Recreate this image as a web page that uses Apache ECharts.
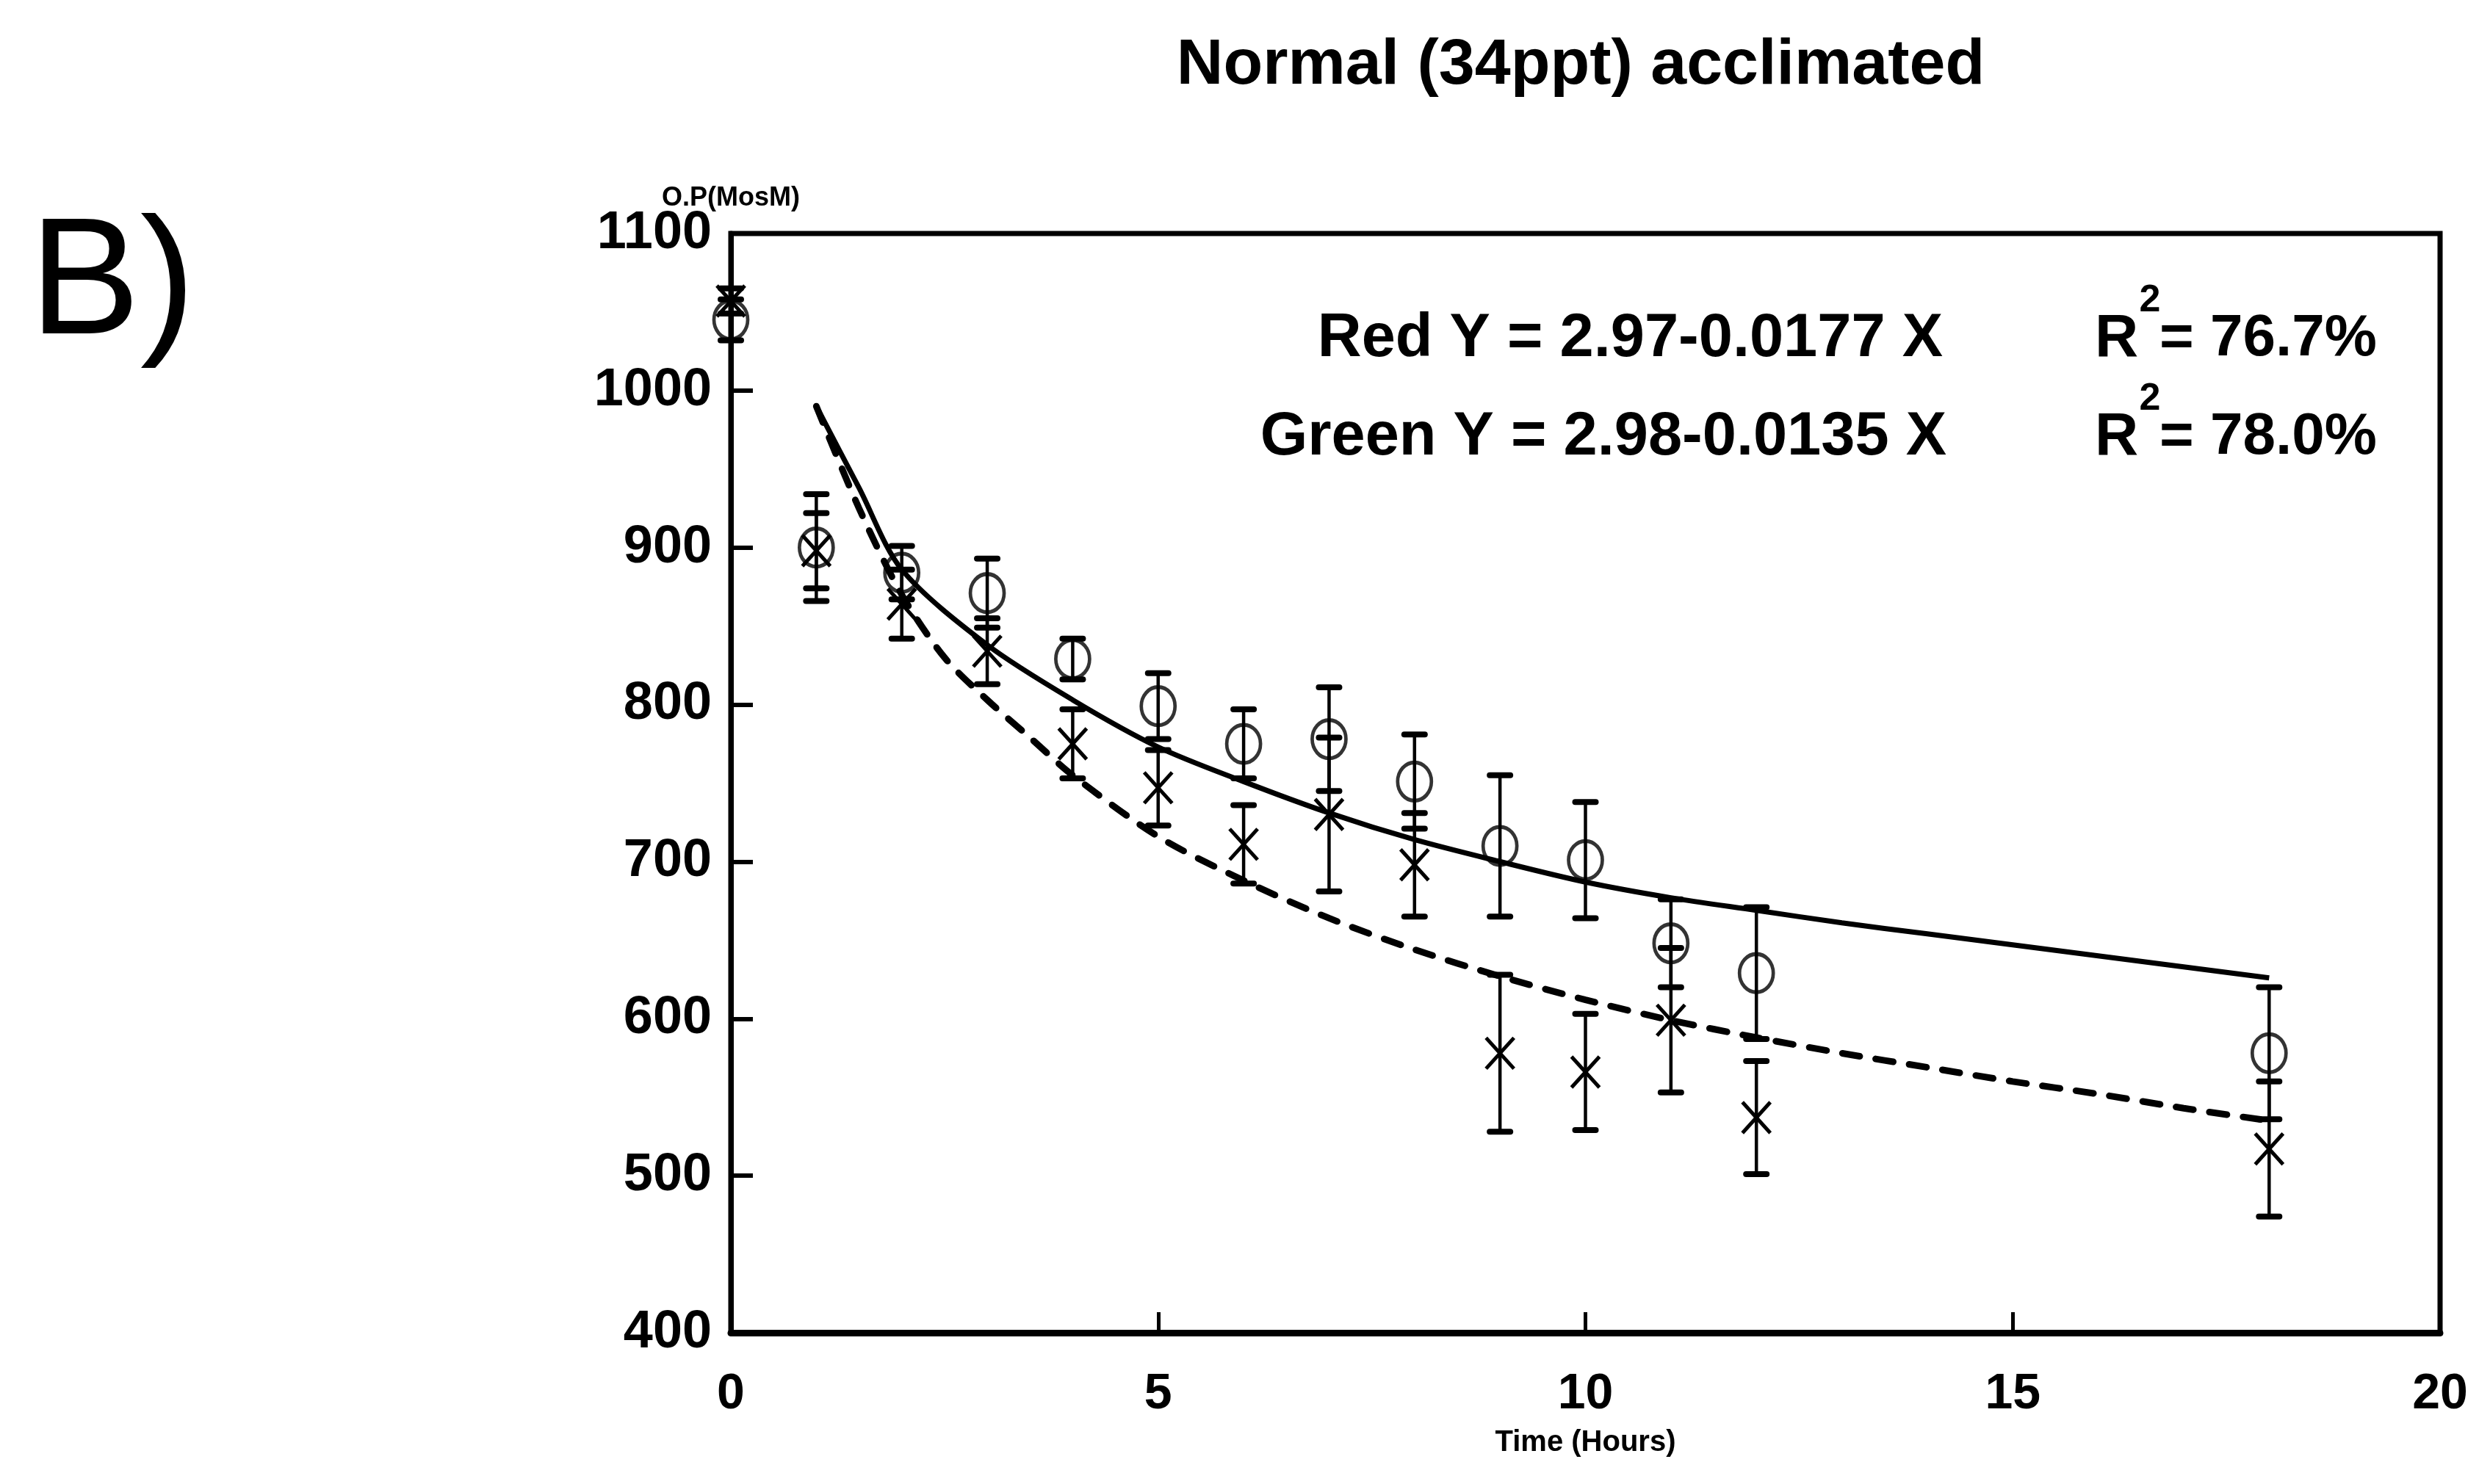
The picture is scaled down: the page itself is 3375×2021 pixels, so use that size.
<!DOCTYPE html>
<html>
<head>
<meta charset="utf-8">
<script src="https://cdn.jsdelivr.net/npm/echarts@6/dist/echarts.min.js"></script>
<style>
html,body{margin:0;padding:0;background:#fff;}
#c{width:3375px;height:2021px;}
</style>
</head>
<body>
<div id="c"></div>
<script>
// ---- data ----
const hours = [0, 1, 2, 3, 4, 5, 6, 7, 8, 9, 10, 11, 12, 18];
// open circles (upper group, solid fitted curve)
const circleOP  = [1045, 900, 884, 871, 829, 799, 775, 778, 751, 710, 701, 648, 629, 578];
const circleErr = [13, 34, 17, 22, 13, 21, 22, 33, 30, 45, 37, 28, 42, 42];
// crosses (lower group, dashed fitted curve)
const crossOP   = [1057, 898, 864, 834, 775, 747, 711, 730, 698, 578, 566, 599, 537, 517];
const crossErr  = [8, 24, 22, 21, 22, 24, 25, 49, 33, 50, 37, 46, 36, 43];
// fitted curves
const solidHours = [1, 1.5, 2, 3, 4, 5, 6, 7, 8, 9, 10, 11, 12, 13, 14, 15, 16, 17, 18];
const solidOP    = [990, 938, 886, 838, 803, 773, 751, 731, 714, 700, 687, 677, 669, 661, 654, 647, 640, 633, 626];
const dashHours  = [1, 1.5, 2, 2.5, 3, 3.5, 4, 5, 6, 7, 8, 9, 10, 11, 12, 13, 14, 15, 16, 17, 18];
const dashOP     = [990, 925, 870, 830, 803, 779, 755, 716, 688, 664, 644, 627, 612, 599, 588, 578, 569, 560, 552, 543, 535];
// axis ticks
const xTicks = [0, 5, 10, 15, 20];
const yTicks = [400, 500, 600, 700, 800, 900, 1000, 1100];
// texts
const titleText = 'Normal (34ppt) acclimated';
const panelLabel = 'B)';
const yName = 'O.P(MosM)';
const xName = 'Time (Hours)';
const eqRed = 'Red Y = 2.97-0.0177 X';
const eqGreen = 'Green Y = 2.98-0.0135 X';
const r2Red = '= 76.7%';
const r2Green = '= 78.0%';

const FONT = "'Liberation Sans', Arial, Helvetica, sans-serif";
const chart = echarts.init(document.getElementById('c'), null, {renderer: 'canvas'});

function errBars(params, api) {
  const x = api.value(0), y = api.value(1), e = api.value(2);
  const t = api.coord([x, y + e]);
  const b = api.coord([x, y - e]);
  const cw = 14;
  return {
    type: 'group',
    children: [
      {type: 'line', shape: {x1: t[0], y1: t[1], x2: b[0], y2: b[1]}, style: {stroke: '#000', lineWidth: 4.5}},
      {type: 'line', shape: {x1: t[0] - cw, y1: t[1], x2: t[0] + cw, y2: t[1]}, style: {stroke: '#000', lineWidth: 8, lineCap: 'round'}},
      {type: 'line', shape: {x1: b[0] - cw, y1: b[1], x2: b[0] + cw, y2: b[1]}, style: {stroke: '#000', lineWidth: 8, lineCap: 'round'}}
    ]
  };
}
function crossMark(params, api) {
  const c = api.coord([api.value(0), api.value(1)]);
  const hx = 19, hy = 21;
  return {
    type: 'group',
    children: [
      {type: 'line', shape: {x1: c[0] - hx, y1: c[1] - hy, x2: c[0] + hx, y2: c[1] + hy}, style: {stroke: '#000', lineWidth: 5}},
      {type: 'line', shape: {x1: c[0] + hx, y1: c[1] - hy, x2: c[0] - hx, y2: c[1] + hy}, style: {stroke: '#000', lineWidth: 5}}
    ]
  };
}

const option = {
  backgroundColor: '#fff',
  animation: false,
  textStyle: {fontFamily: FONT, color: '#000'},
  grid: {left: 995, right: 53, top: 318, bottom: 206, show: true, borderColor: '#000', borderWidth: 7},
  xAxis: {
    type: 'value', min: xTicks[0], max: xTicks[xTicks.length - 1], interval: 5,
    axisLine: {show: true, lineStyle: {color: '#000', width: 9}},
    axisTick: {show: true, inside: true, length: 28, lineStyle: {color: '#000', width: 5}},
    axisLabel: {fontSize: 68, fontWeight: 'bold', color: '#000', margin: 50, fontFamily: FONT, showMinLabel: true, showMaxLabel: true,
      formatter: v => String(v)},
    splitLine: {show: false},
    name: xName, nameLocation: 'middle', nameGap: 130,
    nameTextStyle: {fontSize: 40, fontWeight: 'bold', color: '#000', fontFamily: FONT}
  },
  yAxis: {
    type: 'value', min: yTicks[0], max: yTicks[yTicks.length - 1], interval: 100,
    axisLine: {show: true, lineStyle: {color: '#000', width: 7}},
    axisTick: {show: true, inside: true, length: 30, lineStyle: {color: '#000', width: 6}},
    axisLabel: {fontSize: 72, fontWeight: 'bold', color: '#000', margin: 26, fontFamily: FONT, showMinLabel: true, showMaxLabel: true,
      formatter: v => String(v)},
    splitLine: {show: false},
    name: yName, nameLocation: 'end', nameGap: 30, nameMoveOverlap: false,
    nameTextStyle: {fontSize: 36, fontWeight: 'bold', color: '#000', fontFamily: FONT, align: 'center'}
  },
  graphic: [
    {type: 'text', x: 2152, y: 90, style: {text: titleText, font: 'bold 88px ' + FONT, fill: '#000', textAlign: 'center', textVerticalAlign: 'middle'}},
    {type: 'text', x: 40, y: 392, style: {text: panelLabel, font: 'normal 226px ' + FONT, fill: '#000', textAlign: 'left', textVerticalAlign: 'middle'}},
    {type: 'text', x: 2645, y: 462, style: {text: eqRed, font: 'bold 83px ' + FONT, fill: '#000', textAlign: 'right', textVerticalAlign: 'middle'}},
    {type: 'text', x: 2650, y: 596, style: {text: eqGreen, font: 'bold 83px ' + FONT, fill: '#000', textAlign: 'right', textVerticalAlign: 'middle'}},
    {type: 'text', x: 2852, y: 462, style: {text: 'R', font: 'bold 82px ' + FONT, fill: '#000', textAlign: 'left', textVerticalAlign: 'middle'}},
    {type: 'text', x: 2927, y: 410, style: {text: '2', font: 'bold 52px ' + FONT, fill: '#000', textAlign: 'center', textVerticalAlign: 'middle'}},
    {type: 'text', x: 2940, y: 462, style: {text: r2Red, font: 'bold 80px ' + FONT, fill: '#000', textAlign: 'left', textVerticalAlign: 'middle'}},
    {type: 'text', x: 2852, y: 596, style: {text: 'R', font: 'bold 82px ' + FONT, fill: '#000', textAlign: 'left', textVerticalAlign: 'middle'}},
    {type: 'text', x: 2927, y: 544, style: {text: '2', font: 'bold 52px ' + FONT, fill: '#000', textAlign: 'center', textVerticalAlign: 'middle'}},
    {type: 'text', x: 2940, y: 596, style: {text: r2Green, font: 'bold 80px ' + FONT, fill: '#000', textAlign: 'left', textVerticalAlign: 'middle'}}
  ],
  series: [
    {
      name: 'solid fit', type: 'line', smooth: 0.3, symbol: 'none',
      data: solidHours.map((h, i) => [h, solidOP[i]]),
      lineStyle: {color: '#000', width: 7}, z: 3
    },
    {
      name: 'dashed fit', type: 'line', smooth: 0.3, symbol: 'none',
      data: dashHours.map((h, i) => [h, dashOP[i]]),
      lineStyle: {color: '#000', width: 9, type: [24, 22], cap: 'round'}, z: 3
    },
    {
      name: 'circle SE', type: 'custom', renderItem: errBars,
      data: hours.map((h, i) => [h, circleOP[i], circleErr[i]]), z: 4
    },
    {
      name: 'cross SE', type: 'custom', renderItem: errBars,
      data: hours.map((h, i) => [h, crossOP[i], crossErr[i]]), z: 4
    },
    {
      name: 'circles', type: 'scatter', symbol: 'circle', symbolSize: [46, 52],
      data: hours.map((h, i) => [h, circleOP[i]]),
      itemStyle: {color: 'rgba(0,0,0,0)', borderColor: '#000', borderWidth: 5}, z: 5
    },
    {
      name: 'crosses', type: 'custom', renderItem: crossMark,
      data: hours.map((h, i) => [h, crossOP[i]]), z: 5
    }
  ]
};
chart.setOption(option);
</script>
</body>
</html>
